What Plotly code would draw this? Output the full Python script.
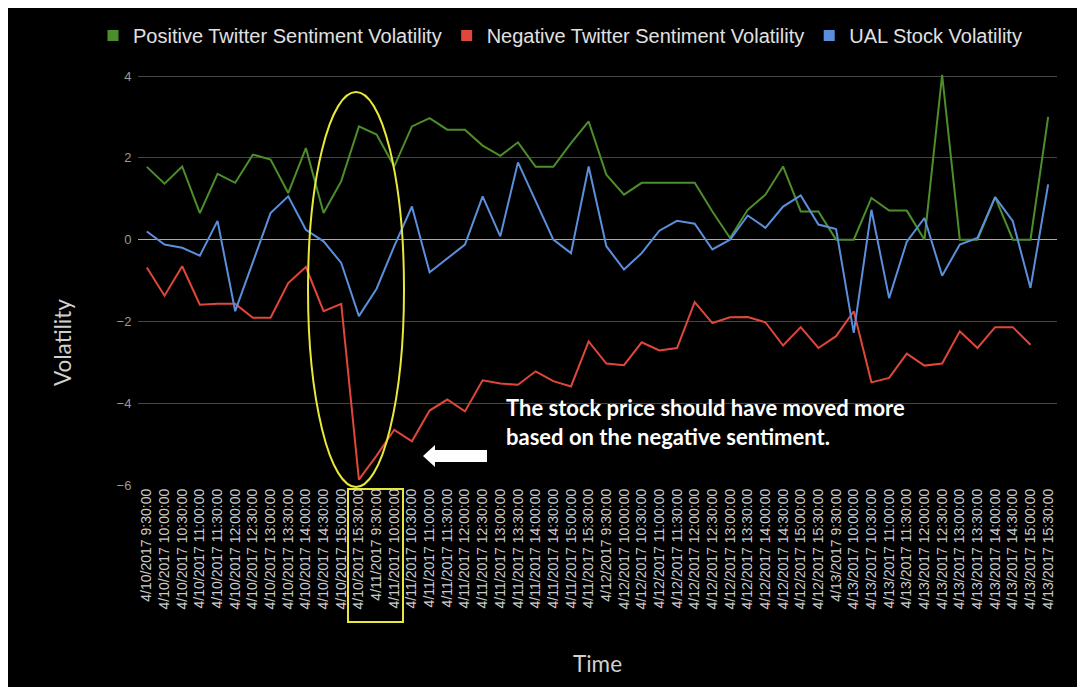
import plotly.graph_objects as go

dates = ["4/10/2017", "4/11/2017", "4/12/2017", "4/13/2017"]
times = ["9:30:00", "10:00:00", "10:30:00", "11:00:00", "11:30:00", "12:00:00", "12:30:00",
         "13:00:00", "13:30:00", "14:00:00", "14:30:00", "15:00:00", "15:30:00"]
categories = [f"{d} {t}" for d in dates for t in times]

positive = [1.78, 1.37, 1.79, 0.65, 1.61, 1.39, 2.08, 1.96, 1.14, 2.24, 0.65, 1.43, 2.77,
            2.57, 1.79, 2.77, 2.97, 2.69, 2.69, 2.30, 2.05, 2.38, 1.78, 1.78, 2.36, 2.89,
            1.59, 1.10, 1.39, 1.39, 1.39, 1.39, 0.69, 0.04, 0.73, 1.10, 1.79, 0.69, 0.69,
            0.0, 0.0, 1.02, 0.71, 0.71, 0.0, 4.03, 0.0, 0.0, 1.04, 0.0, 0.0, 3.0]
negative = [-0.68, -1.37, -0.65, -1.59, -1.57, -1.57, -1.91, -1.91, -1.06, -0.67, -1.75, -1.57,
            -5.87, -5.28, -4.65, -4.93, -4.18, -3.91, -4.2, -3.44, -3.52, -3.55, -3.22, -3.46,
            -3.59, -2.49, -3.03, -3.07, -2.51, -2.71, -2.65, -1.53, -2.04, -1.9, -1.89, -2.02,
            -2.59, -2.14, -2.65, -2.36, -1.75, -3.49, -3.38, -2.79, -3.08, -3.03, -2.24, -2.65,
            -2.14, -2.14, -2.57, None]
ual_stock = [0.2, -0.12, -0.2, -0.39, 0.46, -1.75, -0.55, 0.65, 1.06, 0.24, -0.04, -0.57,
             -1.87, -1.2, -0.16, 0.81, -0.8, -0.45, -0.12, 1.06, 0.08, 1.89, 0.95, 0.0, -0.33,
             1.79, -0.16, -0.73, -0.33, 0.22, 0.46, 0.39, -0.24, 0.0, 0.59, 0.29, 0.81, 1.08,
             0.37, 0.26, -2.28, 0.73, -1.43, -0.05, 0.53, -0.88, -0.12, 0.04, 1.04, 0.45,
             -1.18, 1.35]

series_names = ["Positive Twitter Sentiment Volatility",
                "Negative Twitter Sentiment Volatility",
                "UAL Stock Volatility"]
series_values = [positive, negative, ual_stock]
series_colors = ["#4d8e2c", "#e0473b", "#5b8fdb"]

W, H = 1085, 687
OFF = 8  # page body margin
L, R, T, B = 130, 1049, 64, 477


def px(x):
    """page x pixel -> paper fraction"""
    return (x - OFF - L) / (R - L)


def py(y):
    """page y pixel -> paper fraction"""
    return (B - (y - OFF)) / (B - T)


fig = go.Figure()
for name, vals, col in zip(series_names, series_values, series_colors):
    fig.add_trace(go.Scatter(x=categories, y=vals, mode="lines", name=name,
                             line=dict(color=col, width=2), showlegend=False,
                             connectgaps=False))
for name, col in zip(series_names, series_colors):
    fig.add_trace(go.Scatter(x=[None], y=[None], mode="markers", name=name,
                             marker=dict(color=col, symbol="square", size=11),
                             showlegend=True))

yellow = "#e8e83a"
shapes = [
    dict(type="circle", xref="paper", yref="paper", x0=px(308), x1=px(404), y0=py(487), y1=py(92),
         line=dict(color=yellow, width=2)),
    dict(type="rect", xref="paper", yref="paper", x0=px(348), x1=px(403), y0=py(622), y1=py(489),
         line=dict(color=yellow, width=2)),
]
arrow_pts = [(423, 456), (435, 445), (435, 450), (487, 450), (487, 462), (435, 462), (435, 467)]
path = "M " + " L ".join(f"{px(a):.5f},{py(b):.5f}" for a, b in arrow_pts) + " Z"
shapes.append(dict(type="path", xref="paper", yref="paper", path=path,
                   fillcolor="white", line=dict(color="white", width=0)))

title_font = dict(family="Lato, Open Sans, sans-serif", size=22.5, color="#d0d0d0")

fig.update_layout(
    width=W, height=H,
    margin=dict(l=L, r=W - R, t=T, b=H - B, autoexpand=False),
    paper_bgcolor="black",
    plot_bgcolor="black",
    font=dict(family="Liberation Sans, Arial, sans-serif", color="#dddddd"),
    showlegend=True,
    legend=dict(orientation="h", x=px(93), y=py(16), xanchor="left", yanchor="top",
                font=dict(size=20, color="#e0e0e0"), bgcolor="rgba(0,0,0,0)",
                itemwidth=30, tracegroupgap=0),
    shapes=shapes,
    annotations=[
        dict(xref="paper", yref="paper", x=px(504), y=py(422), xanchor="left", yanchor="middle",
             text="The stock price should have moved more<br>based on the negative sentiment.",
             showarrow=False, align="left",
             font=dict(family="Lato, Open Sans, sans-serif", size=22, color="white", weight="bold")),
        dict(xref="paper", yref="paper", x=px(62), y=py(343), xanchor="center", yanchor="middle",
             text="Volatility", textangle=-90, showarrow=False, font=title_font),
        dict(xref="paper", yref="paper", x=px(597), y=py(663), xanchor="center", yanchor="middle",
             text="Time", showarrow=False, font=title_font),
    ],
    xaxis=dict(type="category", range=[-0.5, 51.5], tickangle=-90, showgrid=False,
               tickfont=dict(size=14, color="#cccccc"), ticks="", zeroline=False,
               showline=False, automargin=False),
    yaxis=dict(range=[-6, 4.1], tickvals=[-6, -4, -2, 0, 2, 4], showgrid=True,
               gridcolor="#444444", gridwidth=1, zeroline=True, zerolinecolor="#aaaaaa",
               zerolinewidth=1, ticks="outside", ticklen=3, tickcolor="rgba(0,0,0,0)",
               tickfont=dict(size=13, color="#999999"), showline=False, automargin=False),
)

fig.write_html("out.html")
